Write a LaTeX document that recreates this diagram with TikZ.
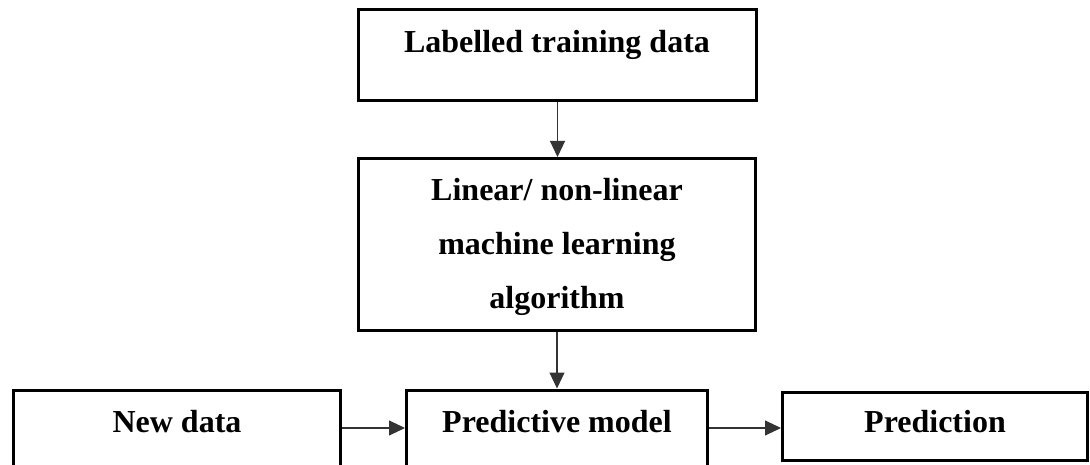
\documentclass[tikz,border=0pt]{standalone}
\usepackage{fontspec}
\setmainfont{Liberation Serif}
\usetikzlibrary{arrows.meta}
\begin{document}
\begin{tikzpicture}[x=1pt,y=-1pt,
  box/.style={draw, line width=3pt, inner sep=0pt},
  lbl/.style={font=\fontsize{32}{38}\selectfont\bfseries, anchor=base, inner sep=0pt},
  flow/.style={line width=1.1pt, draw=black!80, -{Triangle[length=16pt,width=15pt]}}]
\useasboundingbox (0,0) rectangle (1090,465);
\clip (0,0) rectangle (1090,465);

% boxes
\node[box, minimum width=398pt, minimum height=91pt]  (train) at (557.5,55)  {};
\node[box, minimum width=397pt, minimum height=172pt] (algo)  at (557,244.5) {};
\node[box, minimum width=327pt, minimum height=90pt]  (new)   at (177,435)   {};
\node[box, minimum width=301pt, minimum height=90pt]  (model) at (557,435)   {};
\node[box, minimum width=305pt, minimum height=68pt]  (pred)  at (935,426.5) {};

% labels
\node[lbl] (ttrain) at (557,53)  {Labelled training data};
\node[lbl] (talg1)  at (557,201) {Linear/ non-linear};
\node[lbl] (talg2)  at (557,254.5) {machine learning};
\node[lbl] (talg3)  at (557,308) {algorithm};
\node[lbl] (tnew)   at (177,432) {New data};
\node[lbl] (tmodel) at (557,432) {Predictive model};
\node[lbl] (tpred)  at (935,432) {Prediction};

% connectors
\coordinate (row) at (0,428);
\draw[flow] (train.south) -- (train.south |- algo.north);
\draw[flow] (algo.south) -- (algo.south |- model.north);
\draw[flow] (new.east |- row) -- (model.west |- row);
\draw[flow] (model.east |- row) -- (pred.west |- row);
\end{tikzpicture}
\end{document}
